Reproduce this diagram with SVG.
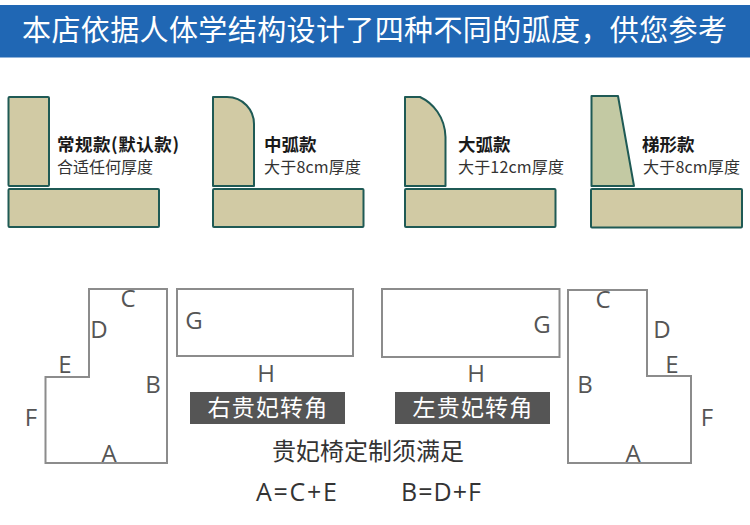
<svg xmlns="http://www.w3.org/2000/svg" width="750" height="525" viewBox="0 0 750 525">
<style>
.cjk{font-family:"Noto Sans CJK SC","Noto Sans",sans-serif}
.sofa{fill:#d1caa4;stroke:#1f5a55;stroke-width:2;stroke-linejoin:round}
.outline{fill:none;stroke:#8c8c8c;stroke-width:2}
.l{font-family:"Open Sans","Noto Sans",sans-serif;font-size:24px;fill:#555;text-anchor:middle}
.t{font-size:17.5px;font-weight:700;fill:#1a1a1a}
.s{font-size:16px;fill:#333}
.tag{fill:#555}
.tagt{font-size:23px;fill:#fff;text-anchor:middle;letter-spacing:1.2px}
.f{font-family:"Open Sans",sans-serif;font-size:25px;fill:#333}
</style>
<g id="banner"><rect x="0" y="5" width="750" height="52.500" fill="#2067b4"/>
<text x="22" y="41" class="cjk" font-size="29" fill="#fff" textLength="705" lengthAdjust="spacing">本店依据人体学结构设计了四种不同的弧度，供您参考</text></g>
<g id="sofa-regular"><rect class="sofa" x="8.500" y="97" width="40.500" height="89" rx="1"/><rect class="sofa" x="8.500" y="189" width="150.500" height="38" rx="1"/>
<text x="57" y="151" class="cjk t" textLength="122" lengthAdjust="spacing">常规款(默认款)</text><text x="57" y="173" class="cjk s">合适任何厚度</text></g>
<g id="sofa-medium"><path class="sofa" d="M213 97H227C243 97 254 110 254 124V186H213Z"/><rect class="sofa" x="213" y="189" width="150.500" height="38" rx="1"/>
<text x="264" y="151" class="cjk t">中弧款</text><text x="264" y="173" class="cjk s" textLength="97" lengthAdjust="spacing">大于8cm厚度</text></g>
<g id="sofa-large"><path class="sofa" d="M405 97H420C433 103 445 117 445.500 137V186H405Z"/><rect class="sofa" x="405" y="189" width="150.500" height="38" rx="1"/>
<text x="458" y="151" class="cjk t">大弧款</text><text x="458" y="173" class="cjk s" textLength="106" lengthAdjust="spacing">大于12cm厚度</text></g>
<g id="sofa-trapezoid"><path class="sofa" style="fill:#c3c9a3" d="M591.500 96H618L634 186H591.500Z"/><rect class="sofa" x="591" y="189" width="151" height="38.500" rx="1"/>
<text x="642" y="151" class="cjk t">梯形款</text><text x="643" y="173" class="cjk s" textLength="97" lengthAdjust="spacing">大于8cm厚度</text></g>
<g id="right-chaise"><path class="outline" d="M89 289H167V463H45.500V377H89Z"/>
<text x="128" y="307" class="l">C</text><text x="99" y="338" class="l">D</text><text x="65" y="373" class="l">E</text><text x="153" y="393" class="l">B</text><text x="31" y="426" class="l">F</text><text x="109" y="462" class="l">A</text></g>
<g id="right-rect"><rect class="outline" x="177" y="289" width="176" height="67"/><text x="194" y="329" class="l">G</text><text x="266" y="382" class="l">H</text></g>
<g id="right-tag"><rect class="tag" x="190" y="392" width="155" height="32"/><text x="268" y="416" class="cjk tagt">右贵妃转角</text></g>
<g id="left-rect"><rect class="outline" x="382" y="289" width="177.500" height="68"/><text x="542" y="333" class="l">G</text><text x="476" y="382" class="l">H</text></g>
<g id="left-tag"><rect class="tag" x="395" y="392" width="155" height="32"/><text x="473" y="416" class="cjk tagt">左贵妃转角</text></g>
<g id="left-chaise"><path class="outline" d="M568 290H647V376H691V463H568Z"/>
<text x="603" y="308" class="l">C</text><text x="662" y="338" class="l">D</text><text x="672" y="373" class="l">E</text><text x="585" y="393" class="l">B</text><text x="707" y="426" class="l">F</text><text x="633" y="462" class="l">A</text></g>
<g id="caption"><text x="272" y="460" class="cjk" font-size="24" fill="#333">贵妃椅定制须满足</text>
<text x="256" y="501" class="f" textLength="81" lengthAdjust="spacing">A=C+E</text>
<text x="401" y="501" class="f" textLength="80" lengthAdjust="spacing">B=D+F</text></g>
</svg>
